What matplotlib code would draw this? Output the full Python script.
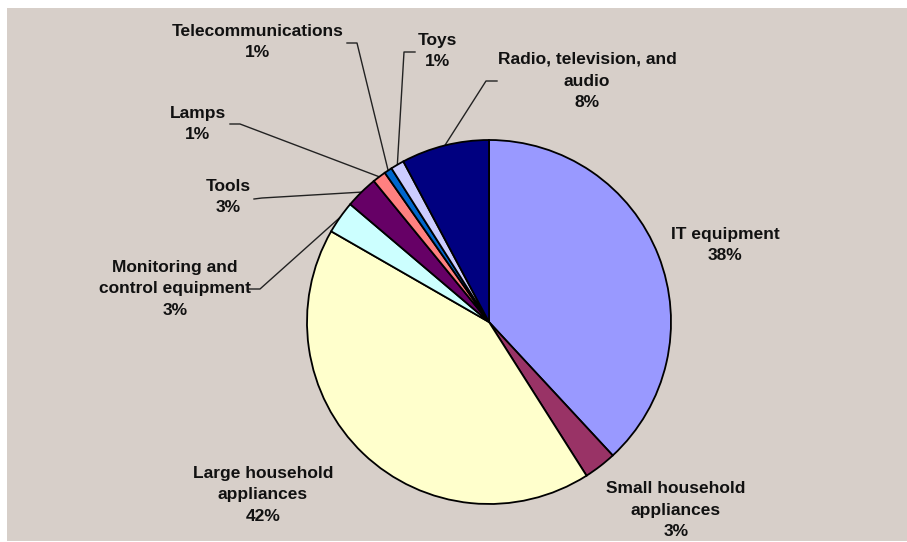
import numpy as np
import matplotlib
matplotlib.use("Agg")
import matplotlib.pyplot as plt
from matplotlib.patches import Rectangle

W, H = 907, 542
BG = "#D7CFC9"

categories = [
    "IT equipment",
    "Small household\nappliances",
    "Large household\nappliances",
    "Monitoring and\ncontrol equipment",
    "Tools",
    "Lamps",
    "Telecommunications",
    "Toys",
    "Radio, television, and\naudio",
]
shares = [38.1, 2.9, 42.3, 2.9, 2.9, 1.2, 0.7, 1.2, 7.8]
colors = ["#9999FF", "#993366", "#FFFFCC", "#CCFFFF", "#660066",
          "#FF8080", "#0066CC", "#CCCCFF", "#000080"]

# label centres in pixel coordinates (y measured from the top)
label_pos = [(725, 245), (676, 510), (263, 495), (175, 289), (228, 197),
             (198, 124), (258, 42), (437, 51), (587, 81)]
# leader lines: (label end, elbow) or None for labels that sit next to their slice
leaders = [None, None, None,
           ((249, 289), (260, 289)),
           ((254, 199), (262, 198)),
           ((230, 124), (240, 124)),
           ((347, 43), (357, 43)),
           ((415, 52), (404, 52)),
           ((497, 81), (486, 81))]

CX, CY, R = 489, 322, 182


def px(x, y):
    return x, H - y


plt.rcParams["font.family"] = ["Liberation Sans", "DejaVu Sans"]

fig = plt.figure(figsize=(W / 100, H / 100), dpi=100)
fig.patch.set_facecolor("white")
ax = fig.add_axes([0, 0, 1, 1])

# chart area background
ax.add_patch(Rectangle(px(7, 541), W - 7, 533, facecolor=BG, edgecolor="none", zorder=0))

wedges, _ = ax.pie(
    shares,
    colors=colors,
    startangle=90,
    counterclock=False,
    center=px(CX, CY),
    radius=R,
    wedgeprops=dict(edgecolor="black", linewidth=1.3),
)
for w in wedges:
    w.set_zorder(2)

for i, (name, val) in enumerate(zip(categories, shares)):
    lx, ly = label_pos[i]
    ax.text(*px(lx, ly), f"{name}\n{val:.0f}%", ha="center", va="center",
            multialignment="center", fontsize=12.5, fontweight="bold",
            color="#111111", linespacing=1.55, zorder=4)
    if leaders[i] is not None:
        w = wedges[i]
        mid = np.deg2rad((w.theta1 + w.theta2) / 2)
        ex, ey = w.center[0] + R * np.cos(mid), w.center[1] + R * np.sin(mid)
        (ax0, ay0), (ax1, ay1) = leaders[i]
        xs = [px(ax0, ay0)[0], px(ax1, ay1)[0], ex]
        ys = [px(ax0, ay0)[1], px(ax1, ay1)[1], ey]
        ax.plot(xs, ys, color="#222222", linewidth=1.0, zorder=1)

ax.set_xlim(0, W)
ax.set_ylim(0, H)
ax.set_aspect("equal")
ax.axis("off")

fig.savefig("out.png", dpi=100, facecolor=fig.get_facecolor())
